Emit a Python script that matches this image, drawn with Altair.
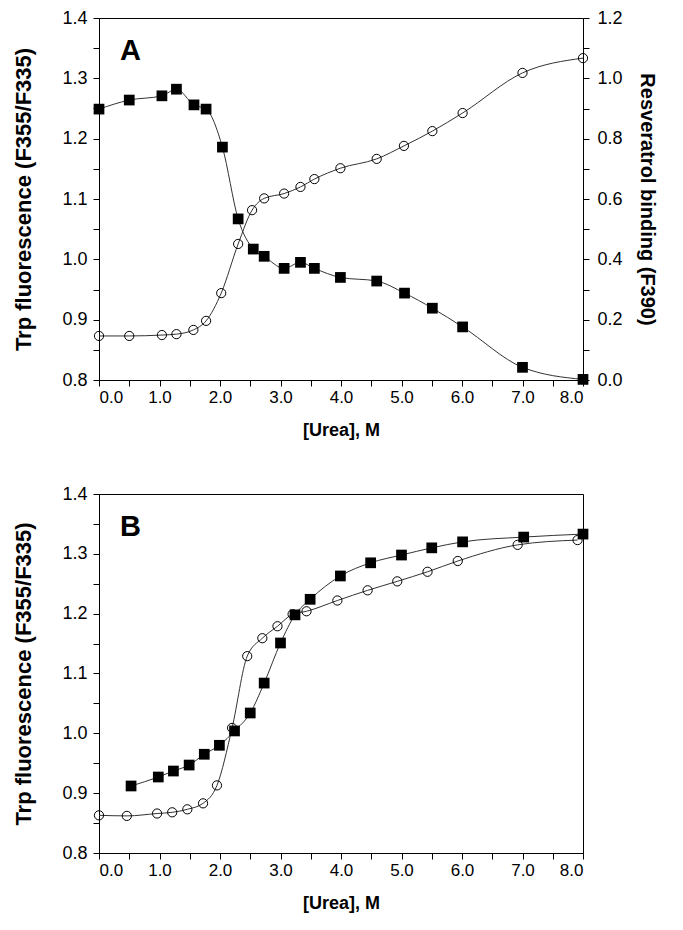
import altair as alt
import pandas as pd

# Panel A: Trp fluorescence (squares, left axis) and resveratrol binding (circles, right axis)
a_sq_urea = [0.0, 0.5, 1.04, 1.28, 1.57, 1.77, 2.04, 2.30, 2.55, 2.73, 3.06, 3.33, 3.56, 3.99, 4.59, 5.05, 5.51, 6.01, 7.0, 8.0]
a_sq_trp = [1.249, 1.264, 1.271, 1.282, 1.256, 1.249, 1.186, 1.067, 1.017, 1.005, 0.985, 0.995, 0.985, 0.970, 0.964, 0.944, 0.919, 0.888, 0.821, 0.801]
a_ci_urea = [0.0, 0.5, 1.04, 1.28, 1.56, 1.77, 2.02, 2.30, 2.53, 2.73, 3.06, 3.33, 3.56, 3.99, 4.59, 5.04, 5.51, 6.01, 7.0, 8.0]
a_ci_res = [0.146, 0.146, 0.149, 0.152, 0.166, 0.196, 0.288, 0.451, 0.563, 0.602, 0.618, 0.640, 0.666, 0.702, 0.733, 0.776, 0.825, 0.885, 1.018, 1.067]

# Panel B: Trp fluorescence
b_sq_urea = [0.53, 0.98, 1.23, 1.49, 1.74, 1.99, 2.24, 2.50, 2.73, 3.0, 3.24, 3.49, 3.99, 4.49, 5.0, 5.50, 6.01, 7.02, 8.0]
b_sq_trp = [0.912, 0.927, 0.937, 0.947, 0.965, 0.980, 1.004, 1.034, 1.084, 1.151, 1.198, 1.224, 1.263, 1.285, 1.298, 1.310, 1.320, 1.328, 1.333]
b_ci_urea = [0.0, 0.46, 0.96, 1.21, 1.46, 1.72, 1.95, 2.20, 2.45, 2.70, 2.95, 3.20, 3.43, 3.94, 4.44, 4.93, 5.43, 5.93, 6.92, 7.91]
b_ci_trp = [0.863, 0.862, 0.866, 0.868, 0.873, 0.883, 0.913, 1.009, 1.129, 1.159, 1.179, 1.199, 1.204, 1.222, 1.239, 1.254, 1.270, 1.288, 1.315, 1.323]

x_ticks = [i * 0.5 for i in range(17)]
y_left_ticks = [round(0.8 + 0.05 * i, 2) for i in range(13)]
y_right_ticks = [round(0.1 * i, 1) for i in range(13)]

FONT = "Liberation Sans"
LINE = "#333333"

a_sq = pd.DataFrame({"urea": a_sq_urea, "val": a_sq_trp})
a_ci = pd.DataFrame({"urea": a_ci_urea, "val": a_ci_res})
b_sq = pd.DataFrame({"urea": b_sq_urea, "val": b_sq_trp})
b_ci = pd.DataFrame({"urea": b_ci_urea, "val": b_ci_trp})

x_scale = alt.Scale(domain=[0, 8], nice=False, zero=False)
yl_scale = alt.Scale(domain=[0.8, 1.4], nice=False, zero=False)
yr_scale = alt.Scale(domain=[0, 1.2], nice=False, zero=False)

def x_enc():
    return alt.X("urea:Q", scale=x_scale,
                 axis=alt.Axis(title="[Urea], M", values=x_ticks,
                               labelExpr="datum.value % 1 == 0 ? format(datum.value, '.1f') : ''",
                               labelFontSize=17, titleFontSize=18, titlePadding=16,
                               labelPadding=3, tickSize=6))

def y_left():
    return alt.Y("val:Q", scale=yl_scale,
                 axis=alt.Axis(title="Trp fluorescence (F355/F335)", orient="left",
                               values=y_left_ticks,
                               labelExpr="abs(datum.value*10 - round(datum.value*10)) < 0.001 ? format(datum.value, '.1f') : ''",
                               labelFontSize=18, titleFontSize=22, titlePadding=26,
                               labelPadding=6, tickSize=6))

def y_right():
    return alt.Y("val:Q", scale=yr_scale,
                 axis=alt.Axis(title="Resveratrol binding (F390)", orient="right",
                               values=y_right_ticks,
                               labelExpr="abs(datum.value*5 - round(datum.value*5)) < 0.001 ? format(datum.value, '.1f') : ''",
                               labelFontSize=18, titleFontSize=20, titlePadding=14,
                               labelPadding=8, tickSize=6))

def series(df, yenc, shape, filled):
    line = alt.Chart(df).mark_line(interpolate="monotone", color=LINE, strokeWidth=1).encode(
        x=x_enc(), y=yenc)
    if filled:
        pts = alt.Chart(df).mark_point(shape=shape, filled=True, color="black", size=115, opacity=1).encode(
            x=x_enc(), y=yenc)
    else:
        pts = alt.Chart(df).mark_point(shape=shape, filled=False, color="black", size=85,
                                       strokeWidth=1, opacity=1).encode(x=x_enc(), y=yenc)
    return line + pts

def letter(txt):
    return alt.Chart(pd.DataFrame({"t": [txt]})).mark_text(
        font=FONT, fontSize=29, fontWeight="bold", align="left", baseline="alphabetic", color="black"
    ).encode(text="t:N", x=alt.value(21), y=alt.value(42))

panel_a = alt.layer(
    series(a_sq, y_left(), "square", True) + letter("A"),
    series(a_ci, y_right(), "circle", False),
).resolve_scale(y="independent").properties(width=484, height=362)

panel_b = alt.layer(
    series(b_ci, y_left(), "circle", False),
    series(b_sq, y_left(), "square", True),
    letter("B"),
).properties(width=484, height=359)

chart = alt.vconcat(panel_a, panel_b, spacing=44).properties(
    padding={"left": 4, "top": 0, "right": 8, "bottom": 4}
).configure_view(stroke="black", strokeWidth=1).configure_axis(
    grid=False, domainColor="black", tickColor="black", labelColor="black", titleColor="black",
    labelFont=FONT, titleFont=FONT, titleFontWeight="bold", domainWidth=1, tickWidth=1
)

chart.save("out.html", embed_options={"renderer": "svg", "actions": False})
